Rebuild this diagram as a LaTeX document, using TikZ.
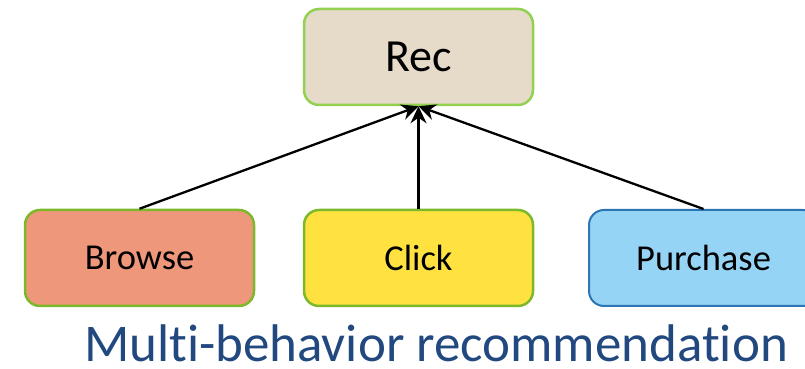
\documentclass[tikz,border=0pt]{standalone}
\usepackage{fontspec}
\setmainfont{Carlito}[Ligatures=NoCommon]
\usetikzlibrary{arrows.meta}

\definecolor{recfill}{HTML}{E6DAC8}
\definecolor{recline}{HTML}{92D050}
\definecolor{browsefill}{HTML}{EE977A}
\definecolor{greenline}{HTML}{7CB92A}
\definecolor{clickfill}{HTML}{FFE23F}
\definecolor{purchfill}{HTML}{96D4F5}
\definecolor{purchline}{HTML}{2E75B6}
\definecolor{titleblue}{HTML}{22497F}

\begin{document}
\begin{tikzpicture}[x=1pt, y=1pt,
  box/.style={draw, rounded corners=15pt, line width=2.5pt,
    minimum width=229pt, minimum height=96pt,
    font=\fontsize{36.5}{40}\selectfont},
  link/.style={line width=2.3pt, -{Stealth[length=17pt, width=16pt]}}]
  \useasboundingbox (0, 0) rectangle (805, 369);
  \node[box, fill=recfill, draw=recline, font=\fontsize{46}{52}\selectfont] (rec) at (418.5, 312) {Rec};
  \node[box, fill=browsefill, draw=greenline] (browse) at (139.5, 111) {Browse};
  \node[box, fill=clickfill, draw=greenline] (click) at (418.5, 111) {Click};
  \node[box, fill=purchfill, draw=purchline, line width=2pt] (purchase) at (703.5, 111) {Purchase};
  \draw[link] (browse.north) -- (rec.south);
  \draw[link] (click.north) -- (rec.south);
  \draw[link] (purchase.north) -- (rec.south);
  \node[text=titleblue, font=\fontsize{53}{58}\selectfont, anchor=base, inner sep=0pt] (title) at (436, 7) {Multi-behavior recommendation};
\end{tikzpicture}
\end{document}
